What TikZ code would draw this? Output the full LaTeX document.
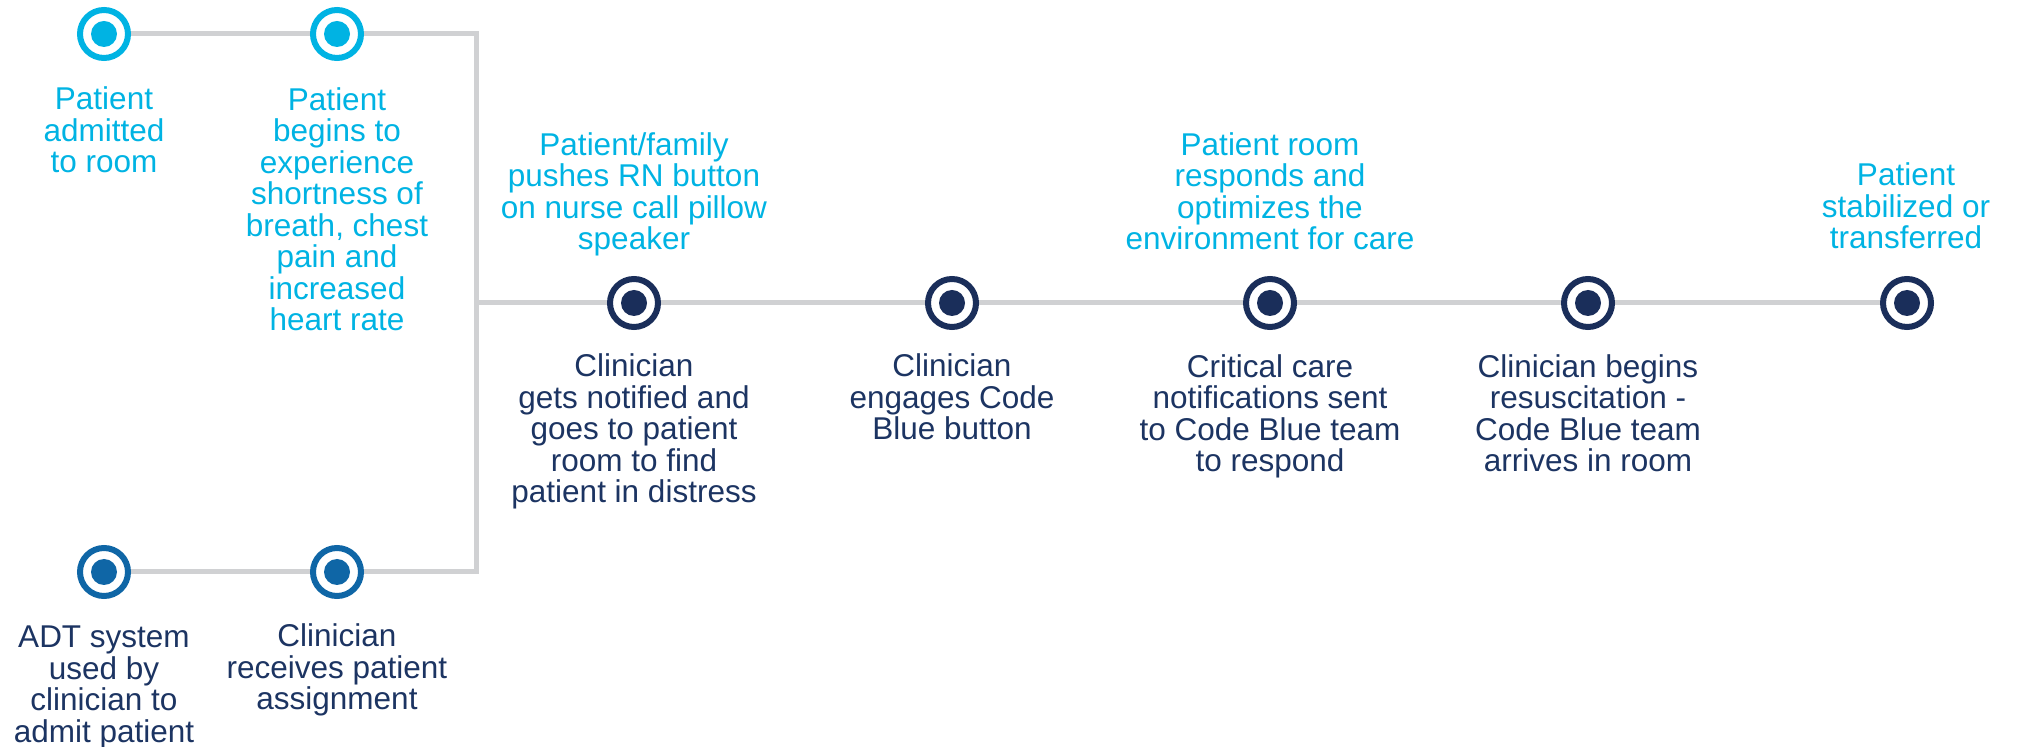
\documentclass[tikz,border=0pt]{standalone}
\usepackage{fontspec}
\setmainfont{Liberation Sans}
\usetikzlibrary{backgrounds}
\definecolor{cyanc}{HTML}{00B3E3}
\definecolor{navyc}{HTML}{1A2E5A}
\definecolor{bluec}{HTML}{0F66A6}
\definecolor{textnavy}{HTML}{1C3462}
\definecolor{linec}{HTML}{D0D1D3}
\begin{document}
\begin{tikzpicture}[x=0.5pt,y=-0.5pt,
  ev/.style={circle, draw=#1, fill=white, line width=3pt, minimum size=24pt, inner sep=0pt,
    path picture={\fill[#1] (path picture bounding box.center) circle (6.5pt);}},
  lbl/.style={align=center, font=\fontsize{15.75pt}{15.75pt}\selectfont, text=#1, inner sep=0pt, anchor=base},
  tl/.style={draw=linec, line width=2.5pt}]
\useasboundingbox (0,0) rectangle (2018,747);
% event circles
\node[ev=cyanc] (a1) at (104,34) {};
\node[ev=cyanc] (a2) at (337,34) {};
\node[ev=bluec] (b1) at (104,572) {};
\node[ev=bluec] (b2) at (337,572) {};
\node[ev=navyc] (m1) at (634,303) {};
\node[ev=navyc] (m2) at (952,303) {};
\node[ev=navyc] (m3) at (1270,303) {};
\node[ev=navyc] (m4) at (1588,303) {};
\node[ev=navyc] (m5) at (1907,303) {};
\coordinate (jt) at (476,34);
\coordinate (jb) at (476,572);
\coordinate (jm) at (476,303);
% connectors
\begin{scope}[on background layer]
\draw[tl] (a1.center) -- (a2.center) -- (jt) -- (jb) -- (b2.center) -- (b1.center);
\draw[tl] (jm) -- (m1.center) -- (m2.center) -- (m3.center) -- (m4.center) -- (m5.center);
\end{scope}
% labels (anchored at the baseline of the last line)
\node[lbl=cyanc] (ta1) at (104,173) {Patient\\admitted\\to room};
\node[lbl=cyanc] (ta2) at (337,331) {Patient\\begins to\\experience\\shortness of\\breath, chest\\pain and\\increased\\heart rate};
\node[lbl=textnavy] (tb1) at (104,742) {ADT system\\used by\\clinician to\\admit patient};
\node[lbl=textnavy] (tb2) at (337,710) {Clinician\\receives patient\\assignment};
\node[lbl=cyanc] (tu1) at (634,250) {Patient/family\\pushes RN button\\on nurse call pillow\\speaker};
\node[lbl=textnavy] (td1) at (634,503) {Clinician\\gets notified and\\goes to patient\\room to find\\patient in distress};
\node[lbl=textnavy] (td2) at (952,440) {Clinician\\engages Code\\Blue button};
\node[lbl=cyanc] (tu3) at (1270,250) {Patient room\\responds and\\optimizes the\\environment for care};
\node[lbl=textnavy] (td3) at (1270,472) {Critical care\\notifications sent\\to Code Blue team\\to respond};
\node[lbl=textnavy] (td4) at (1588,472) {Clinician begins\\resuscitation -\\Code Blue team\\arrives in room};
\node[lbl=cyanc] (tu5) at (1906,249) {Patient\\stabilized or\\transferred};
\end{tikzpicture}
\end{document}
